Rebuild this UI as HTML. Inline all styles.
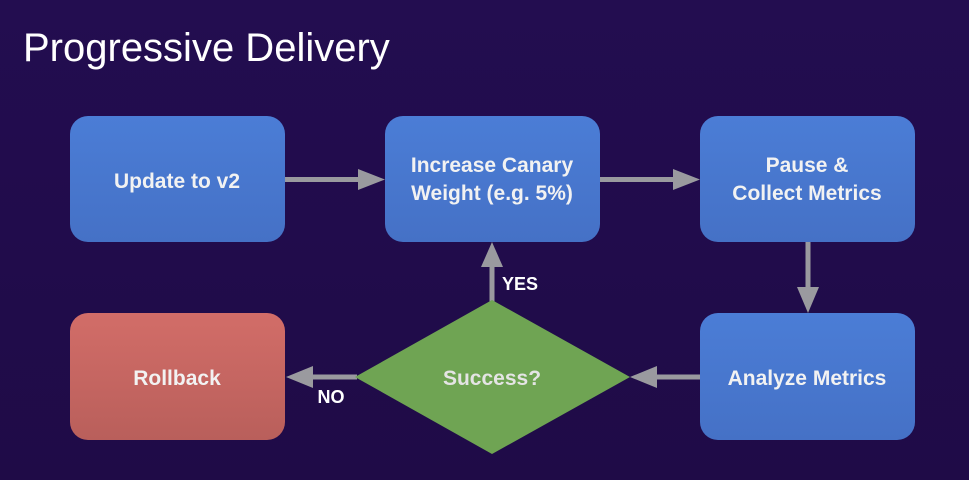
<!DOCTYPE html>
<html><head><meta charset="utf-8"><style>
html,body{margin:0;padding:0;background:#220d4f;}
svg{display:block;}
text{font-family:"Liberation Sans",Arial,sans-serif;}
</style></head><body>
<svg width="969" height="480" viewBox="0 0 969 480" xmlns="http://www.w3.org/2000/svg">
<defs>
<linearGradient id="bg" x1="0" y1="0" x2="0" y2="1"><stop offset="0" stop-color="#230d50"/><stop offset="1" stop-color="#1f0b47"/></linearGradient>
<linearGradient id="bl" x1="0" y1="0" x2="0" y2="1"><stop offset="0" stop-color="#4b7dd6"/><stop offset="1" stop-color="#4571c6"/></linearGradient>
<linearGradient id="rd" x1="0" y1="0" x2="0" y2="1"><stop offset="0" stop-color="#d26d68"/><stop offset="1" stop-color="#b95f5b"/></linearGradient>
</defs>
<rect width="969" height="480" fill="url(#bg)"/>
<text x="23" y="61" font-size="40" fill="#ffffff">Progressive Delivery</text>
<g fill="#9a9a9f" stroke="none">
<rect x="285" y="177" width="75" height="5"/><polygon points="358,169 385,179.5 358,190"/>
<rect x="600" y="177" width="75" height="5"/><polygon points="673,169 700,179.5 673,190"/>
<rect x="805.5" y="241" width="5" height="48"/><polygon points="797,287 808,313 819,287"/>
<rect x="655" y="374.5" width="45" height="5"/><polygon points="657,366 630,377 657,388"/>
<rect x="489.5" y="264" width="5" height="38"/><polygon points="481,267 492,242 503,267"/>
<rect x="310" y="374.5" width="47" height="5"/><polygon points="313,366 286,377 313,388"/>
</g>
<rect x="70" y="116" width="215" height="126" rx="18" fill="url(#bl)"/>
<rect x="385" y="116" width="215" height="126" rx="18" fill="url(#bl)"/>
<rect x="700" y="116" width="215" height="126" rx="18" fill="url(#bl)"/>
<rect x="700" y="313" width="215" height="127" rx="18" fill="url(#bl)"/>
<rect x="70" y="313" width="215" height="127" rx="18" fill="url(#rd)"/>
<polygon points="492,300 630,377 492,454 355,377" fill="#6fa453"/>
<g fill="#f2f2f2" font-weight="bold" font-size="21" text-anchor="middle">
<text x="177" y="188">Update to v2</text>
<text x="492" y="172">Increase Canary</text>
<text x="492" y="200">Weight (e.g. 5%)</text>
<text x="807" y="172">Pause &amp;</text>
<text x="807" y="200">Collect Metrics</text>
<text x="807" y="385">Analyze Metrics</text>
<text x="177" y="385">Rollback</text>
<text x="492" y="385" fill="#e4e4e4">Success?</text>
<text x="520" y="290" font-size="18" fill="#fff">YES</text>
<text x="331" y="403" font-size="18" fill="#fff">NO</text>
</g>
</svg>
</body></html>
